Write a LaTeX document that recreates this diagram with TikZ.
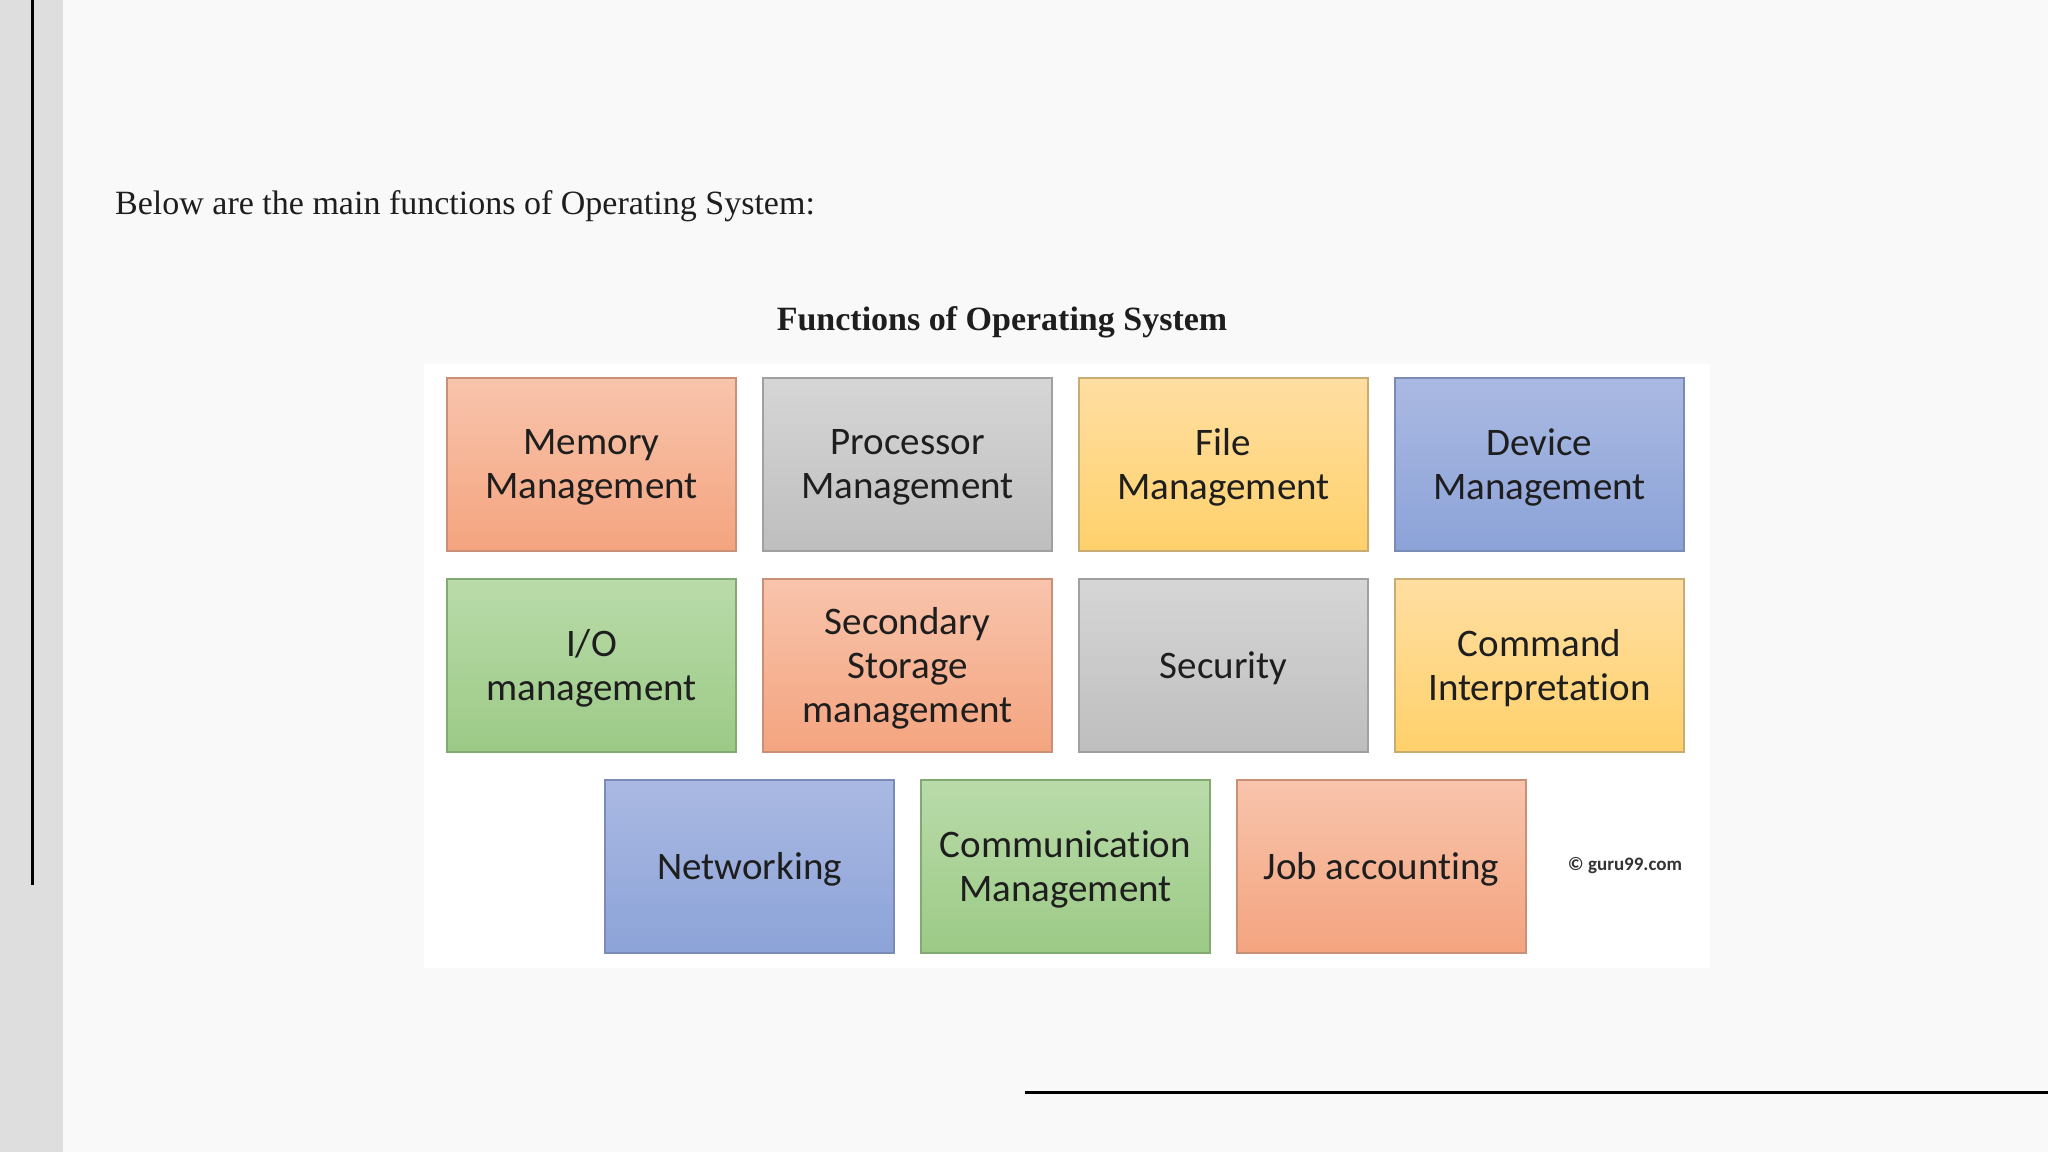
\documentclass[tikz,border=0pt]{standalone}
\usepackage{fontspec}
\setmainfont{Liberation Serif}
\newfontfamily\boxfont[RawFeature={-liga;-clig;-dlig}]{Carlito}
\definecolor{pagebg}{HTML}{F9F9F9}
\definecolor{bandbg}{HTML}{DEDEDE}
\definecolor{txt}{HTML}{1E1E1E}
\definecolor{orT}{HTML}{F8C4AC}\definecolor{orB}{HTML}{F4A47F}\definecolor{orD}{HTML}{C99078}
\definecolor{grT}{HTML}{D6D6D6}\definecolor{grB}{HTML}{BEBEBE}\definecolor{grD}{HTML}{A0A0A0}
\definecolor{yeT}{HTML}{FFDEA2}\definecolor{yeB}{HTML}{FFD16B}\definecolor{yeD}{HTML}{C9AC72}
\definecolor{blT}{HTML}{AAB9E2}\definecolor{blB}{HTML}{8CA3D8}\definecolor{blD}{HTML}{7A8BB6}
\definecolor{gnT}{HTML}{B9DBA9}\definecolor{gnB}{HTML}{9CCA86}\definecolor{gnD}{HTML}{82A972}
\tikzset{
  fbox/.style={rectangle, minimum width=289pt, minimum height=173pt, inner sep=0pt,
    align=center, line width=1.6pt, text=txt,
    font=\boxfont\fontsize{39}{44}\selectfont},
  orbox/.style={fbox, draw=orD, top color=orT, bottom color=orB},
  grbox/.style={fbox, draw=grD, top color=grT, bottom color=grB},
  yebox/.style={fbox, draw=yeD, top color=yeT, bottom color=yeB},
  blbox/.style={fbox, draw=blD, top color=blT, bottom color=blB},
  gnbox/.style={fbox, draw=gnD, top color=gnT, bottom color=gnB},
  lbl/.style={inner sep=0pt, text=txt, font=\boxfont\fontsize{39}{44}\selectfont, align=center},
}
\begin{document}
\begin{tikzpicture}[x=1pt,y=-1pt]
\useasboundingbox (0,0) rectangle (2048,1152);
\fill[pagebg] (0,0) rectangle (2048,1152);
\fill[bandbg] (0,0) rectangle (63,1152);
\draw[line width=3pt] (32,0) -- (32,885);
\draw[line width=3pt] (1025,1092) -- (2048,1092);

\node[anchor=base west, inner sep=0pt, text=txt, font=\fontsize{34}{40}\selectfont] (intro) at (115,214) {Below are the main functions of Operating System:};
\node[anchor=base, inner sep=0pt, text=txt, font=\bfseries\fontsize{34}{40}\selectfont] (title) at (1002,330) {Functions of Operating System};

\fill[white] (424,364) rectangle (1710,968);

\node[orbox] (mem) at (591.5,464.5) {};
\node[grbox] (proc) at (907.5,464.5) {};
\node[yebox] (file) at (1223.5,464.5) {};
\node[blbox] (dev) at (1539.5,464.5) {};
\node[gnbox] (io) at (591.5,665.5) {};
\node[orbox] (sec2) at (907.5,665.5) {};
\node[grbox] (secu) at (1223.5,665.5) {};
\node[yebox] (cmd) at (1539.5,665.5) {};
\node[blbox] (net) at (749.5,866.5) {};
\node[gnbox] (comm) at (1065.5,866.5) {};
\node[orbox] (job) at (1381.5,866.5) {};

\node[lbl] (memt) at ([yshift=-3pt]mem.center) {Memory\\Management};
\node[lbl] (proct) at ([yshift=-3pt]proc.center) {Processor\\Management};
\node[lbl] (filet) at ([yshift=-3pt]file.center) {File\\Management};
\node[lbl] (devt) at ([yshift=-3pt]dev.center) {Device\\Management};
\node[lbl] (iot) at ([yshift=-3pt]io.center) {I/O\\management};
\node[lbl] (sec2t) at ([yshift=-3pt]sec2.center) {Secondary\\Storage\\management};
\node[lbl] (secut) at ([yshift=-3pt]secu.center) {Security};
\node[lbl] (cmdt) at ([yshift=-3pt]cmd.center) {Command\\Interpretation};
\node[lbl] (nett) at ([yshift=-3pt]net.center) {Networking};
\node[lbl] (commt) at ([yshift=-3pt]comm.center) {Communication\\Management};
\node[lbl] (jobt) at ([yshift=-3pt]job.center) {Job accounting};

\node[inner sep=0pt, text=black!80, font=\boxfont\bfseries\fontsize{19}{22}\selectfont] (guru) at (1625,866) {© guru99.com};
\end{tikzpicture}
\end{document}
